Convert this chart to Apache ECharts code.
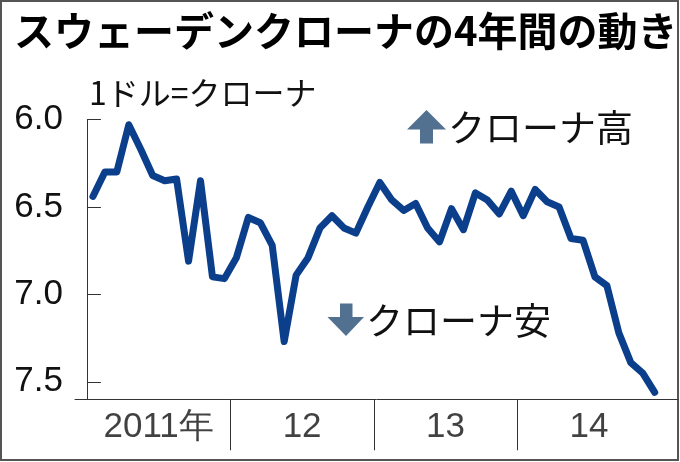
<!DOCTYPE html>
<html>
<head>
<meta charset="utf-8">
<script src="https://cdn.jsdelivr.net/npm/echarts@6/dist/echarts.min.js"></script>
<style>
  html, body { margin: 0; padding: 0; background: #fff; }
  #chart { width: 680px; height: 462px; }
</style>
</head>
<body>
<div id="chart"></div>
<script>
// ---- data ----
const titleText = 'スウェーデンクローナの4年間の動き';
const unitText = '1ドル=クローナ';
const upText = 'クローナ高';
const downText = 'クローナ安';
const years = ['2011年', '12', '13', '14'];
// monthly USD/SEK (mid-month), Jan 2011 .. Dec 2014
const sekPerUsd = [
  6.44, 6.30, 6.30, 6.03, 6.17, 6.32, 6.35, 6.34, 6.81, 6.35, 6.90, 6.91,
  6.79, 6.56, 6.59, 6.72, 7.27, 6.89, 6.79, 6.62, 6.55, 6.62, 6.65, 6.50,
  6.36, 6.46, 6.52, 6.48, 6.62, 6.70, 6.51, 6.63, 6.42, 6.46, 6.54, 6.41,
  6.55, 6.40, 6.47, 6.50, 6.68, 6.69, 6.90, 6.95, 7.22, 7.39, 7.45, 7.56
];
const yTicks = [6.0, 6.5, 7.0, 7.5];

// ---- layout / style ----
const X_MIN = -1, X_MAX = 49.45;
const NUM_FONT = "'Liberation Sans', Arial, sans-serif";
const JP_FONT = "'Noto Sans CJK JP', sans-serif";
const AXIS_COLOR = '#333';
const TEXT_COLOR = '#111';
const LINE_COLOR = '#0b3f8c';
const ARROW_COLOR = '#52708f';

const lineData = sekPerUsd.map((v, i) => [i + 0.5, v]);
const yearBounds = years.slice(1).map((_, k) => (k + 1) * 12);
const yearLabelData = years.map((name, k) => {
  const a = Math.max(k * 12, X_MIN), b = Math.min((k + 1) * 12, X_MAX);
  return { value: [(a + b) / 2, 0.45], name: name };
});

const chart = echarts.init(document.getElementById('chart'), null, { renderer: 'canvas' });
chart.setOption({
  animation: false,
  backgroundColor: '#fff',
  grid: [
    { left: 75, right: 2, top: 119.5, bottom: 62.7 },
    { left: 75, right: 2, top: 399.3, height: 51 }
  ],
  xAxis: [
    { type: 'value', gridIndex: 0, min: X_MIN, max: X_MAX,
      axisLine: { show: true, lineStyle: { color: AXIS_COLOR, width: 1 } },
      axisTick: { show: false }, axisLabel: { show: false }, splitLine: { show: false } },
    { type: 'value', gridIndex: 1, min: X_MIN, max: X_MAX, show: false }
  ],
  yAxis: [
    { type: 'value', gridIndex: 0, inverse: true, min: 6.0, max: 7.6, interval: 0.5,
      axisLine: { show: true, lineStyle: { color: AXIS_COLOR, width: 1 } },
      axisTick: { show: true, inside: true, length: 14, lineStyle: { color: AXIS_COLOR, width: 1 } },
      axisLabel: { showMaxLabel: false, margin: 12, fontSize: 35, fontFamily: NUM_FONT, color: TEXT_COLOR,
        formatter: v => (yTicks.some(t => Math.abs(t - v) < 1e-6) ? v.toFixed(1) : '') },
      splitLine: { show: false } },
    { type: 'value', gridIndex: 1, min: 0, max: 1, show: false }
  ],
  series: [
    { type: 'line', xAxisIndex: 0, yAxisIndex: 0, data: lineData, symbol: 'none', smooth: false,
      lineStyle: { color: LINE_COLOR, width: 7, cap: 'round', join: 'round' }, silent: true },
    { type: 'scatter', xAxisIndex: 1, yAxisIndex: 1, data: yearLabelData, symbolSize: 0, silent: true,
      label: { show: true, position: 'inside', formatter: '{b}', fontSize: 35, fontFamily: NUM_FONT, color: TEXT_COLOR },
      markLine: { silent: true, symbol: ['none', 'none'], label: { show: false },
        lineStyle: { color: AXIS_COLOR, width: 1, type: 'solid' },
        data: yearBounds.map(x => ({ xAxis: x })) } }
  ],
  graphic: [
    { type: 'rect', shape: { x: 1, y: 1, width: 677, height: 459 },
      style: { fill: 'none', stroke: '#555', lineWidth: 2 }, silent: true },
    { type: 'text', x: 14, y: 31, style: { text: titleText, font: 'bold 40px ' + JP_FONT, fill: '#000',
      textAlign: 'left', textVerticalAlign: 'middle' } },
    { type: 'text', x: 89, y: 93, style: { text: unitText, font: '32px ' + JP_FONT, fill: TEXT_COLOR,
      textAlign: 'left', textVerticalAlign: 'middle' } },
    { type: 'polygon', shape: { points: [[407,129.5],[426.5,110],[446,129.5],[433,129.5],[433,143.5],[420,143.5],[420,129.5]] },
      style: { fill: ARROW_COLOR } },
    { type: 'text', x: 448, y: 128, style: { text: upText, font: '37px ' + JP_FONT, fill: TEXT_COLOR,
      textAlign: 'left', textVerticalAlign: 'middle' } },
    { type: 'polygon', shape: { points: [[340,303.5],[352.5,303.5],[352.5,317],[364,317],[346,336],[327.5,317],[340,317]] },
      style: { fill: ARROW_COLOR } },
    { type: 'text', x: 366, y: 321, style: { text: downText, font: '37px ' + JP_FONT, fill: TEXT_COLOR,
      textAlign: 'left', textVerticalAlign: 'middle' } }
  ]
});
</script>
</body>
</html>
